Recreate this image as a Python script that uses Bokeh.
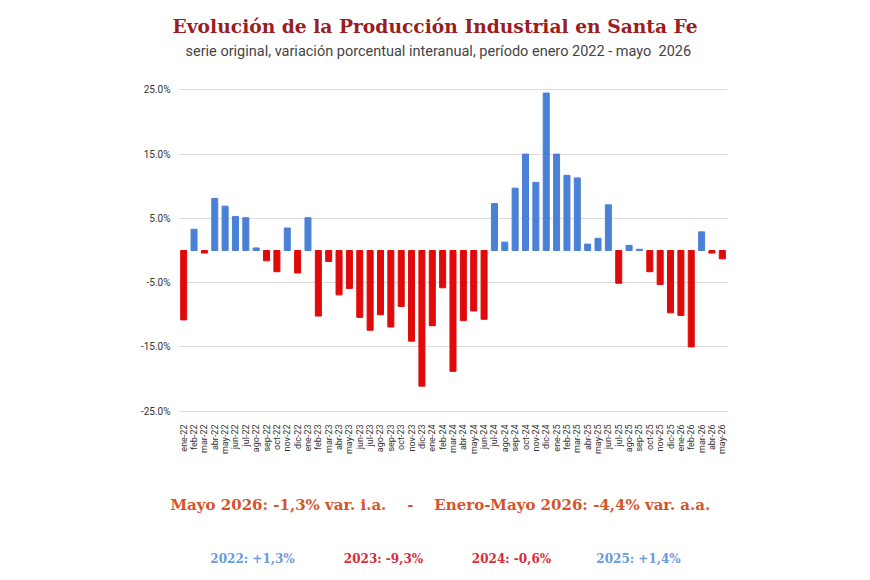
from math import pi
from bokeh.plotting import figure
from bokeh.layouts import column
from bokeh.models import (Label, Title, FixedTicker, PrintfTickFormatter, ColumnDataSource,
                          FactorRange, Range1d)
from bokeh.embed import file_html
from bokeh.resources import INLINE

month_names = ["ene", "feb", "mar", "abr", "may", "jun", "jul", "ago", "sep", "oct", "nov", "dic"]
years = ["22", "23", "24", "25", "26"]
months = [f"{m}-{y}" for y in years for m in month_names][:53]

values = [
    -10.8, 3.3, -0.4, 8.1, 6.9, 5.3, 5.1, 0.4, -1.6, -3.3, 3.5, -3.5,
    5.1, -10.2, -1.7, -6.9, -5.9, -10.4, -12.4, -10.0, -11.9, -8.7, -14.1, -21.1,
    -11.7, -5.8, -18.8, -10.9, -9.4, -10.7, 7.3, 1.3, 9.7, 15.0, 10.6, 24.5,
    15.0, 11.7, 11.3, 1.0, 1.9, 7.1, -5.1, 0.8, 0.2, -3.3, -5.3, -9.7,
    -10.1, -15.0, 2.9, -0.4, -1.3,
]

y_ticks = [-25, -15, -5, 5, 15, 25]

NB = "\u00a0"
title_text = "Evolución de la Producción Industrial en Santa Fe"
subtitle_text = "serie original, variación porcentual interanual, período enero 2022 - mayo" + NB * 2 + "2026"
summary_text = "Mayo 2026: -1,3% var. i.a." + NB * 4 + "-" + NB * 4 + "Enero-Mayo 2026: -4,4% var. a.a."
year_labels = ["2022: +1,3%", "2023: -9,3%", "2024: -0,6%", "2025: +1,4%"]
year_values = [1.3, -9.3, -0.6, 1.4]

BLUE = "#4a80d6"
RED = "#e00a0a"

W = 870
MAIN_H, BOT_H = 470, 110
FRAME_L, FRAME_R = 178, 727

colors = [BLUE if v >= 0 else RED for v in values]
src = ColumnDataSource(dict(month=months, value=values, color=colors))

p = figure(width=W, height=MAIN_H, x_range=FactorRange(*months), y_range=Range1d(-25.67, 26.45),
           output_backend="svg", toolbar_location=None,
           min_border_left=FRAME_L, min_border_right=W - FRAME_R, min_border_top=80,
           min_border_bottom=MAIN_H - 415)
p.outline_line_color = None
p.background_fill_color = "white"
p.border_fill_color = "white"

# spacer between the chart frame and the subtitle
p.add_layout(Title(text=NB, text_font_size="1px", standoff=16, text_color="white"), "above")
p.add_layout(Title(text=subtitle_text, align="left", offset=185 - FRAME_L, standoff=4,
                   text_font="Roboto", text_font_size="14.5px", text_font_style="normal",
                   text_color="#444444"), "above")
p.add_layout(Title(text=title_text, align="left", offset=172 - FRAME_L, standoff=4,
                   text_font="DejaVu Serif", text_font_size="18.7px", text_font_style="bold",
                   text_color="#9a1d1f"), "above")

p.vbar(x="month", top="value", bottom=0, width=0.58, color="color", source=src)

p.xgrid.grid_line_color = None
p.ygrid.grid_line_color = "#dcdcdc"
p.ygrid.grid_line_width = 1
p.yaxis.ticker = FixedTicker(ticks=y_ticks)
p.yaxis.formatter = PrintfTickFormatter(format="%.1f%%")
p.yaxis.axis_line_color = None
p.yaxis.major_tick_line_color = None
p.yaxis.minor_tick_line_color = None
p.yaxis.major_label_standoff = 2
p.yaxis.major_label_text_font = "Roboto"
p.yaxis.major_label_text_font_size = "10px"
p.yaxis.major_label_text_color = "#333333"

p.xaxis.axis_line_color = None
p.xaxis.major_tick_line_color = None
p.xaxis.minor_tick_line_color = None
p.xaxis.major_label_orientation = pi / 2
p.xaxis.major_label_standoff = 3
p.xaxis.major_label_text_font = "Roboto"
p.xaxis.major_label_text_font_size = "9px"
p.xaxis.major_label_text_color = "#333333"

# footer: frame aligned with the chart frame, so data x equals page x
BOT_TOP = 50
bot = figure(width=W, height=BOT_H, x_range=Range1d(FRAME_L, FRAME_R),
             y_range=Range1d(BOT_H - BOT_TOP, 0),
             output_backend="svg", toolbar_location=None,
             min_border_left=FRAME_L, min_border_right=W - FRAME_R,
             min_border_top=BOT_TOP, min_border_bottom=0)
bot.axis.visible = False
bot.grid.visible = False
bot.outline_line_color = None
bot.background_fill_color = "white"
bot.border_fill_color = "white"
bot.add_layout(Title(text=summary_text, align="left", offset=170 - FRAME_L, standoff=14,
                     text_font="DejaVu Serif", text_font_size="15px", text_font_style="bold",
                     text_color="#d4552b"), "above")

year_x = [252, 383, 511, 638]
for t, v, x in zip(year_labels, year_values, year_x):
    bot.add_layout(Label(x=x, y=558 - MAIN_H - BOT_TOP, text=t, text_align="center",
                         text_baseline="middle", text_font_size="12px",
                         text_color="#6a9ae0" if v >= 0 else "#d92a38",
                         text_font="DejaVu Serif", text_font_style="bold"))

layout = column(p, bot, spacing=0)
open("out.html", "w").write(file_html(layout, INLINE))
